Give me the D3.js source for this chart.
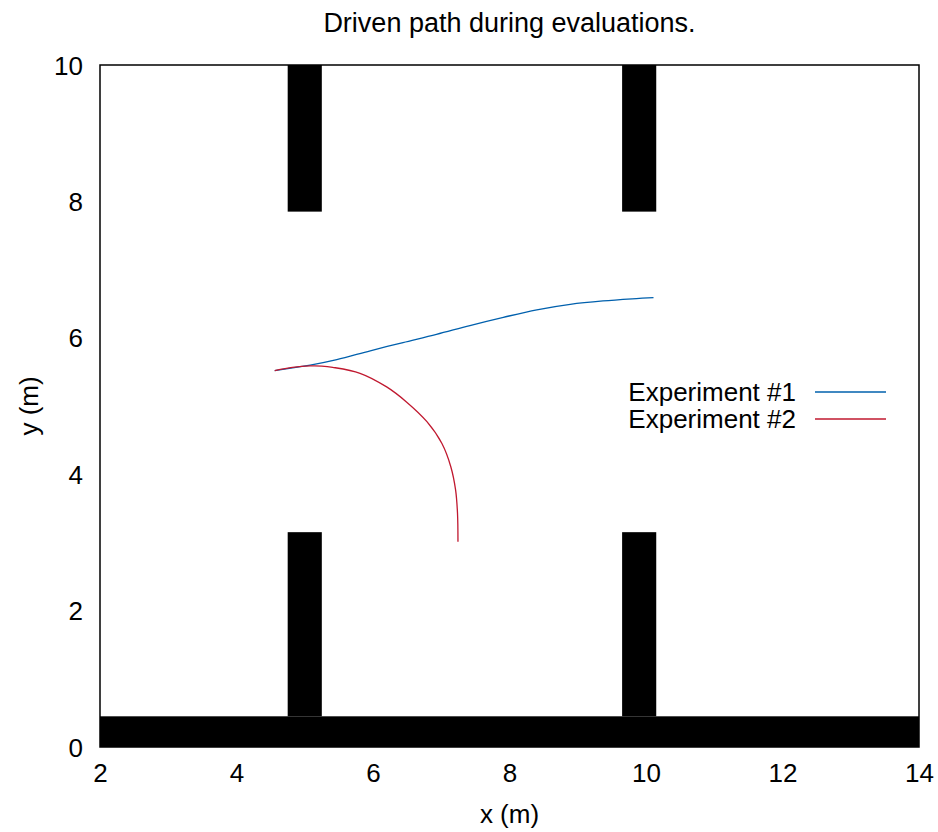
<!DOCTYPE html>
<html>
<head>
<meta charset="utf-8">
<script src="https://cdn.jsdelivr.net/npm/d3@7"></script>
<style>
  body { margin: 0; background: #fff; }
  text { font-family: "Liberation Sans", Arial, sans-serif; fill: #000; }
</style>
</head>
<body>
<div class="chart"></div>
<script>
'use strict';

// tick values
const xTicks = [2, 4, 6, 8, 10, 12, 14];
const yTicks = [0, 2, 4, 6, 8, 10];

// walls: [x0, x1, y0, y1] in metres
const walls = [
    [2, 14, 0, 0.45],
    [4.75, 5.25, 0.45, 3.15],
    [9.65, 10.15, 0.45, 3.15],
    [4.75, 5.25, 7.85, 10],
    [9.65, 10.15, 7.85, 10]
];

// driven paths [x, y]
const experiment1 = [
    [4.56, 5.52], [5.08, 5.60], [5.47, 5.68], [5.96, 5.81], [6.44, 5.93],
    [6.93, 6.05], [7.42, 6.18], [7.91, 6.30], [8.40, 6.41], [8.89, 6.49],
    [9.37, 6.54], [9.86, 6.575], [10.11, 6.59]
];
const experiment2 = [
    [4.56, 5.52], [4.82, 5.565], [5.08, 5.587], [5.25, 5.585], [5.41, 5.567],
    [5.81, 5.48], [6.20, 5.28], [6.49, 5.06], [6.79, 4.77], [7.01, 4.45],
    [7.14, 4.11], [7.21, 3.77], [7.238, 3.43], [7.245, 3.01]
];

const seriesNames = ["Experiment #1", "Experiment #2"];
const seriesColors = ["#0060ad", "#c0182f"];

const margin = {top: 65, right: 19, bottom: 85, left: 100},
      width = 938 - margin.left - margin.right,
      height = 832 - margin.top - margin.bottom;

const svg = d3.select('.chart').append('svg')
    .attr('width', 938).attr('height', 832);
const g = svg.append('g')
    .attr('transform', "translate(" + margin.left + "," + margin.top + ")");

const x = d3.scaleLinear().domain([2, 14]).range([0, width]);
const y = d3.scaleLinear().domain([0, 10]).range([height, 0]);

g.append("clipPath").attr("id", "clip")
  .append("rect").attr("width", width).attr("height", height);

const plot = g.append("g").attr("clip-path", "url(#clip)");

plot.selectAll("rect.wall")
    .data(walls)
    .enter()
    .append("rect")
    .attr("class", "wall")
    .attr("x", d => x(d[0]))
    .attr("y", d => y(d[3]))
    .attr("width", d => x(d[1]) - x(d[0]))
    .attr("height", d => y(d[2]) - y(d[3]))
    .style("fill", "#000");

const line = d3.line()
    .x(d => x(d[0]))
    .y(d => y(d[1]))
    .curve(d3.curveCatmullRom.alpha(0.5));

[experiment1, experiment2].forEach((pts, i) => {
    plot.append("path")
        .datum(pts)
        .attr("d", line)
        .style("fill", "none")
        .style("stroke", seriesColors[i])
        .style("stroke-width", 1.3);
});

// frame
g.append("rect")
    .attr("width", width).attr("height", height)
    .style("fill", "none").style("stroke", "#000").style("stroke-width", 1.5);

// axes (labels only)
const xAxis = g.append("g")
    .attr("transform", "translate(0," + height + ")")
    .call(d3.axisBottom(x).tickValues(xTicks).tickSize(0).tickPadding(17));
const yAxis = g.append("g")
    .call(d3.axisLeft(y).tickValues(yTicks).tickSize(0).tickPadding(17));
[xAxis, yAxis].forEach(a => {
    a.select(".domain").remove();
    a.selectAll("text")
        .style("font-family", '"Liberation Sans", Arial, sans-serif')
        .style("font-size", "26px");
});
yAxis.selectAll("text").attr("dy", "0.35em");

// title and axis labels
svg.append("text")
    .attr("x", margin.left + width / 2).attr("y", 32)
    .style("text-anchor", "middle").style("font-size", "27px")
    .text("Driven path during evaluations.");

svg.append("text")
    .attr("x", margin.left + width / 2).attr("y", 823)
    .style("text-anchor", "middle").style("font-size", "26px")
    .text("x (m)");

svg.append("text")
    .attr("transform", "translate(38," + (margin.top + height / 2) + ") rotate(-90)")
    .style("text-anchor", "middle").style("font-size", "26px")
    .text("y (m)");

// legend
const legend = svg.append("g");
seriesNames.forEach((name, i) => {
    const ly = 392 + i * 27;
    legend.append("text")
        .attr("x", 796).attr("y", ly).attr("dy", "0.35em")
        .style("text-anchor", "end").style("font-size", "26px")
        .text(name);
    legend.append("line")
        .attr("x1", 815).attr("x2", 886)
        .attr("y1", ly).attr("y2", ly)
        .style("stroke", seriesColors[i]).style("stroke-width", 1.3);
});
</script>
</body>
</html>
